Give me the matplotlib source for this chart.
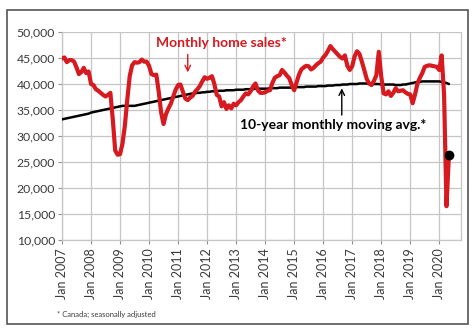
import numpy as np
import matplotlib
matplotlib.use("Agg")
import matplotlib.pyplot as plt
from matplotlib.patches import Rectangle

plt.rcParams["font.family"] = ["Lato", "DejaVu Sans"]

# Monthly home sales, seasonally adjusted (Jan 2007 .. May 2020)
sales_rows = [
    [44900, 45100, 44200, 44600, 44600, 44300, 43200, 41900, 42300, 43100, 42100, 42400],  # 2007
    [40000, 39800, 39000, 38700, 38300, 37900, 37600, 37900, 38300, 33200, 27200, 26400],  # 2008
    [26500, 28500, 32000, 37000, 41500, 43600, 44200, 44100, 44200, 44700, 44300, 44300],  # 2009
    [43500, 41900, 41700, 41800, 38500, 34500, 32300, 34200, 35300, 36200, 37600, 38900],  # 2010
    [39800, 39900, 38500, 37200, 36900, 37400, 37700, 38500, 39000, 39600, 40500, 41300],  # 2011
    [41000, 41200, 41500, 40000, 37900, 37600, 35700, 36500, 35200, 35900, 35300, 36200],  # 2012
    [35900, 36500, 36900, 37600, 38200, 38000, 38600, 39500, 40100, 38800, 38300, 38300],  # 2013
    [38400, 38700, 38800, 40200, 41200, 41500, 41700, 42700, 42200, 41600, 41100, 39800],  # 2014
    [38800, 40300, 41800, 42800, 43200, 43500, 43400, 42800, 43100, 43600, 44000, 44300],  # 2015
    [45100, 45600, 46400, 47300, 46700, 46200, 45700, 45200, 44900, 45500, 43500, 42700],  # 2016
    [43400, 45300, 46300, 45800, 44300, 42700, 41000, 40100, 39800, 40600, 41700, 46200],  # 2017
    [41500, 38200, 38000, 38600, 37700, 38300, 39200, 38600, 38700, 38800, 38400, 38100],  # 2018
    [38000, 36300, 38000, 40100, 41200, 42100, 43300, 43500, 43600, 43500, 43400, 43300],  # 2019
    [42700, 45500, 38000, 16500, 26300],                                                   # 2020
]

# 10-year monthly moving average
avg_rows = [
    [33200, 33300, 33400, 33500, 33600, 33700, 33800, 33900, 34000, 34100, 34200, 34300],
    [34500, 34600, 34700, 34800, 34900, 35000, 35100, 35200, 35300, 35400, 35500, 35600],
    [35700, 35800, 35800, 35800, 35800, 35800, 35800, 35900, 36000, 36100, 36200, 36300],
    [36400, 36500, 36600, 36700, 36800, 36900, 37000, 37100, 37200, 37300, 37400, 37500],
    [37600, 37700, 37800, 37900, 38000, 38100, 38200, 38200, 38300, 38300, 38400, 38400],
    [38500, 38500, 38600, 38600, 38600, 38700, 38700, 38700, 38800, 38800, 38800, 38800],
    [38900, 38900, 38900, 38900, 39000, 39000, 39000, 39000, 39100, 39100, 39100, 39100],
    [39100, 39100, 39200, 39200, 39200, 39200, 39300, 39300, 39300, 39300, 39300, 39300],
    [39400, 39400, 39400, 39400, 39400, 39500, 39500, 39500, 39500, 39500, 39600, 39600],
    [39600, 39600, 39700, 39700, 39700, 39800, 39800, 39800, 39900, 39900, 39900, 40000],
    [40000, 40000, 40000, 40100, 40100, 40100, 40100, 40000, 40000, 40000, 40000, 40000],
    [39900, 39900, 39900, 39900, 39900, 39900, 39800, 39800, 39800, 39900, 39900, 40000],
    [40100, 40200, 40300, 40400, 40400, 40500, 40500, 40500, 40500, 40500, 40500, 40500],
    [40500, 40400, 40300, 40200, 40000],
]

years = list(range(2007, 2021))
tick_labels = [f"Jan {y}" for y in years]
y_ticks = [10000, 15000, 20000, 25000, 30000, 35000, 40000, 45000, 50000]

sales = np.concatenate([np.array(r, dtype=float) for r in sales_rows])
avg = np.concatenate([np.array(r, dtype=float) for r in avg_rows])
months = np.arange(len(sales))

RED = "#d71920"
GRID = "#c6c6c6"
TXT = "#3a3a3a"

fig = plt.figure(figsize=(4.72, 3.29), dpi=100)
ax = fig.add_axes([62 / 472, 1 - 240 / 329, (461 - 62) / 472, (240 - 32) / 329])

ax.plot(months, avg, color="black", lw=1.8, zorder=3, solid_capstyle="round")
ax.plot(months, sales, color=RED, lw=3.0, zorder=4, solid_joinstyle="round")
ax.plot(months[-1], sales[-1], "o", color="black", ms=6, zorder=5)

ax.set_xlim(0, 165)
ax.set_ylim(10000, 50000)
ax.set_xticks([12 * i for i in range(len(years))])
ax.set_xticklabels(tick_labels, rotation=90, fontsize=9, color=TXT)
ax.set_yticks(y_ticks)
ax.set_yticklabels([f"{v:,}" for v in y_ticks], fontsize=8.8, color=TXT)
ax.grid(True, color=GRID, lw=0.9)
ax.set_axisbelow(True)
for side in ["left", "bottom", "right"]:
    ax.spines[side].set_color(GRID)
    ax.spines[side].set_linewidth(0.9)
ax.spines["top"].set_visible(False)
ax.tick_params(axis="both", color="#909090", length=3, width=0.8, pad=2)
ax.tick_params(axis="x", pad=3)

ax.text(65.8, 47900, "Monthly home sales*", color=RED, fontsize=10,
        fontweight="bold", ha="center", va="center")
ax.annotate("", xy=(52, 41700), xytext=(52, 46200),
            arrowprops=dict(arrowstyle="->", color=RED, lw=1.0))

ax.text(112, 32100, "10-year monthly moving avg.*", color="black", fontsize=10,
        fontweight="bold", ha="center", va="center")
ax.annotate("", xy=(115.7, 39700), xytext=(115.7, 33500),
            arrowprops=dict(arrowstyle="->", color="black", lw=1.0))

fig.text(57 / 472, 1 - 314 / 329, "* Canada; seasonally adjusted", fontsize=5.5,
         color=TXT, va="center")

fig.patches.append(Rectangle((7 / 472, 1 - 324 / 329), 461 / 472, 314 / 329,
                             transform=fig.transFigure, fill=False,
                             edgecolor="#555555", lw=1.2))

fig.savefig("out.png", dpi=100)
